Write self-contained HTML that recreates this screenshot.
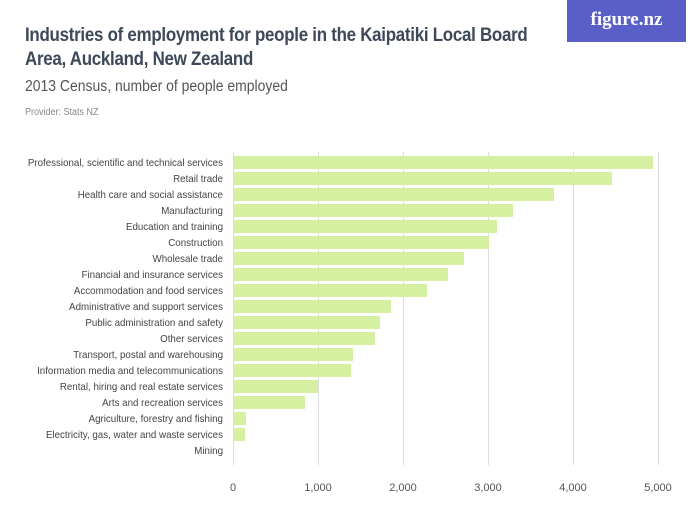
<!DOCTYPE html>
<html><head><meta charset="utf-8"><style>
body{margin:0;width:700px;height:525px;background:#fff;font-family:"Liberation Sans",sans-serif;overflow:hidden;position:relative}
.t{position:absolute;left:25px;top:24px;font-size:19px;font-weight:bold;color:#3d4858;line-height:24px;letter-spacing:-0.3px;transform:scaleX(0.89);transform-origin:0 0;white-space:nowrap}
.s{position:absolute;left:25px;top:78px;font-size:15.5px;color:#555;transform:scaleX(0.9);transform-origin:0 0;white-space:nowrap}
.p{position:absolute;left:25px;top:107px;font-size:10px;color:#888;transform:scaleX(0.9);transform-origin:0 0}
.logo{position:absolute;left:567px;top:0;width:119px;height:42px;background:#5a5fc8;color:#fff;font-size:19px;font-family:"Liberation Serif",serif;font-weight:bold;text-align:center;line-height:40px}
</style></head><body>
<div class="t">Industries of employment for people in the Kaipatiki Local Board<br>Area, Auckland, New Zealand</div>
<div class="s">2013 Census, number of people employed</div>
<div class="p">Provider: Stats NZ</div>
<div class="logo">figure.nz</div>
<svg width="700" height="525" style="position:absolute;left:0;top:0" font-family="Liberation Sans, sans-serif">
<g stroke="#ddd" stroke-width="1">
<line x1="233.5" y1="152" x2="233.5" y2="465"/><line x1="318.5" y1="152" x2="318.5" y2="465"/><line x1="403.5" y1="152" x2="403.5" y2="465"/><line x1="488.5" y1="152" x2="488.5" y2="465"/><line x1="573.5" y1="152" x2="573.5" y2="465"/><line x1="658.5" y1="152" x2="658.5" y2="465"/>
</g>
<g font-size="11" fill="#555" text-anchor="middle">
<text x="233" y="491">0</text><text x="318" y="491">1,000</text><text x="403" y="491">2,000</text><text x="488" y="491">3,000</text><text x="573" y="491">4,000</text><text x="658" y="491">5,000</text>
</g>
<g fill="#d4f0a0">
<rect x="233" y="156" width="420" height="13"/>
<rect x="233" y="172" width="379" height="13"/>
<rect x="233" y="188" width="321" height="13"/>
<rect x="233" y="204" width="280" height="13"/>
<rect x="233" y="220" width="264" height="13"/>
<rect x="233" y="236" width="256" height="13"/>
<rect x="233" y="252" width="231" height="13"/>
<rect x="233" y="268" width="215" height="13"/>
<rect x="233" y="284" width="194" height="13"/>
<rect x="233" y="300" width="158" height="13"/>
<rect x="233" y="316" width="147" height="13"/>
<rect x="233" y="332" width="142" height="13"/>
<rect x="233" y="348" width="120" height="13"/>
<rect x="233" y="364" width="118" height="13"/>
<rect x="233" y="380" width="85" height="13"/>
<rect x="233" y="396" width="72" height="13"/>
<rect x="233" y="412" width="13" height="13"/>
<rect x="233" y="428" width="12" height="13"/>
</g>
<g font-size="10.5" fill="#444" text-anchor="end" transform="translate(223,0) scale(0.93,1) translate(-223,0)">
<text x="223" y="166">Professional, scientific and technical services</text>
<text x="223" y="182">Retail trade</text>
<text x="223" y="198">Health care and social assistance</text>
<text x="223" y="214">Manufacturing</text>
<text x="223" y="230">Education and training</text>
<text x="223" y="246">Construction</text>
<text x="223" y="262">Wholesale trade</text>
<text x="223" y="278">Financial and insurance services</text>
<text x="223" y="294">Accommodation and food services</text>
<text x="223" y="310">Administrative and support services</text>
<text x="223" y="326">Public administration and safety</text>
<text x="223" y="342">Other services</text>
<text x="223" y="358">Transport, postal and warehousing</text>
<text x="223" y="374">Information media and telecommunications</text>
<text x="223" y="390">Rental, hiring and real estate services</text>
<text x="223" y="406">Arts and recreation services</text>
<text x="223" y="422">Agriculture, forestry and fishing</text>
<text x="223" y="438">Electricity, gas, water and waste services</text>
<text x="223" y="454">Mining</text>
</g>
</svg>
</body></html>
